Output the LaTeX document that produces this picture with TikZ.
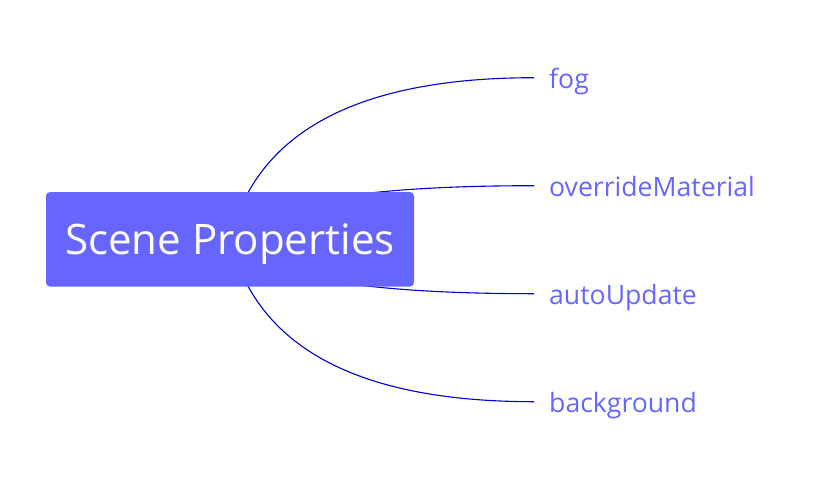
\documentclass[tikz,border=0pt]{standalone}
\usepackage{fontspec}
\setmainfont{Open Sans}
\usetikzlibrary{calc,backgrounds}
\definecolor{rootfill}{RGB}{102,102,255}
\definecolor{leaftext}{RGB}{102,102,255}
\definecolor{linkcol}{RGB}{0,0,204}
\tikzset{
  rootbox/.style={fill=rootfill, rounded corners=4pt, inner sep=0pt,
    minimum width=368pt, minimum height=94.5pt, text=white,
    font=\fontsize{42}{48}\selectfont, text height=30pt, text depth=0pt},
  leaf/.style={anchor=west, inner xsep=15pt, inner ysep=0pt, text=leaftext,
    font=\fontsize{26.6}{32}\selectfont, text height=22pt, text depth=0pt},
  branch/.style={draw=linkcol, line width=1.1pt}
}
\begin{document}
\begin{tikzpicture}[x=1pt,y=-1pt]
\useasboundingbox (0,0) rectangle (818,480);
\node[rootbox] (root) at (230,239.3) {Scene Properties};
\node[leaf] (fog) at (534,77.7) {fog};
\node[leaf] (override) at (534,185.7) {overrideMaterial};
\node[leaf] (auto) at (534,293.7) {autoUpdate};
\node[leaf] (bg) at (534,401.7) {background};
\begin{pgfonlayer}{background}
\foreach \t in {fog,override,auto,bg}{
  \draw[branch] let \p0=(root.center), \p2=(\t.west), \p1=(\x0+40pt,\y2) in
    (\p0) .. controls ($(\p0)!0.6667!(\p1)$) and ($(\p2)!0.6667!(\p1)$) .. (\p2);
}
\end{pgfonlayer}
\end{tikzpicture}
\end{document}
